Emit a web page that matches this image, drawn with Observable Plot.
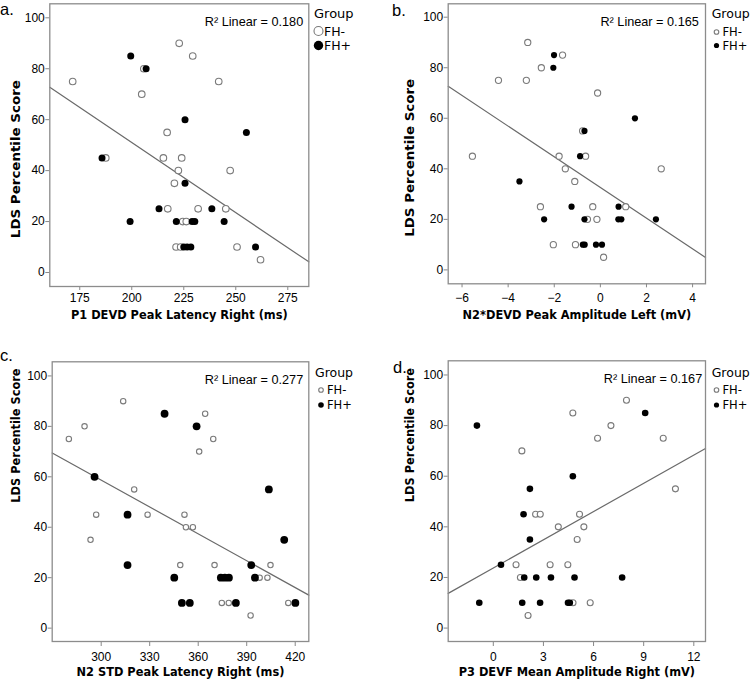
<!DOCTYPE html>
<html><head><meta charset="utf-8">
<script src="https://cdn.jsdelivr.net/npm/d3@7"></script>
<script src="https://cdn.jsdelivr.net/npm/@observablehq/plot@0.6"></script>
<style>
body{margin:0;background:#fff;}
#wrap{position:relative;width:750px;height:684px;overflow:hidden;background:#fff;}
.panel{position:absolute;}
.panel svg{overflow:visible;}
#overlay{position:absolute;left:0;top:0;pointer-events:none;}
</style></head><body><div id="wrap"></div>
<script>
// ---- shared ----
const yTicks = [0, 20, 40, 60, 80, 100];
const yLabel = "LDS Percentile Score";
const groupTitle = "Group";
const groupNames = ["FH-", "FH+"];

// ---- panel a ----
const aMinusX = [171.6,205.8,204.8,222.8,229.3,241.8,217.0,187.5,215.2,224.0,222.4,247.3,220.5,217.3,231.9,245.2,224.5,226.2,221.3,223.5,250.6,261.9];
const aMinusY = [75,80,70,90,85,75,55,45,45,45,40,40,35,25,25,25,20,20,10,10,10,5];
const aPlusX = [199.5,206.9,225.6,255.1,185.7,225.6,213.1,238.5,199.2,221.4,229.0,230.3,244.4,225.0,226.6,228.4,259.5];
const aPlusY = [85,80,60,55,45,35,25,25,20,20,20,20,20,10,10,10,10];
const aTicks = [175, 200, 225, 250, 275];
const aXLabel = "P1 DEVD Peak Latency Right (ms)";
const aR2 = "R² Linear = 0.180";

// ---- panel b ----
const bMinusX = [-5.55,-4.42,-3.15,-3.21,-2.56,-1.64,-2.60,-2.04,-1.79,-1.52,-1.11,-1.08,-0.12,-0.77,-0.64,-0.33,-0.56,-0.15,0.14,1.10,2.64];
const bMinusY = [45,75,90,75,80,85,25,10,45,40,35,10,70,55,45,25,20,20,5,25,40];
const bPlusX = [-3.51,-2.04,-2.01,-2.44,-1.25,-0.69,-0.88,-0.69,-0.76,-0.68,-0.19,0.07,0.79,0.78,0.91,1.50,2.41];
const bPlusY = [35,80,85,20,25,55,45,20,10,10,10,10,25,20,20,60,20];
const bTicks = [-6, -4, -2, 0, 2, 4];
const bXLabel = "N2*DEVD Peak Amplitude Left (mV)";
const bR2 = "R² Linear = 0.165";

// ---- panel c ----
const cMinusX = [280.0,289.7,293.4,296.9,313.6,320.4,328.7,351.5,352.4,356.7,348.9,360.6,364.3,369.3,370.1,374.6,378.9,392.4,398.0,402.8,404.7,415.7];
const cMinusY = [75,80,35,45,90,55,45,45,40,40,25,70,85,75,25,10,10,5,20,20,25,10];
const cPlusX = [295.9,316.3,316.3,339.2,345.2,349.9,354.8,359.0,374.0,376.5,379.0,383.3,392.8,395.1,403.7,413.2,420.1];
const cPlusY = [60,45,25,85,20,10,10,80,20,20,20,10,25,20,55,35,10];
const cTicks = [300, 330, 360, 390, 420];
const cXLabel = "N2 STD Peak Latency Right (ms)";
const cR2 = "R² Linear = 0.277";

// ---- panel d ----
const dMinusX = [1.36,1.62,1.71,2.08,2.53,2.81,3.40,3.89,4.46,4.77,4.76,5.02,5.16,5.42,5.80,6.24,7.04,7.97,10.17,10.90];
const dMinusY = [25,20,70,5,45,45,25,40,25,10,85,35,45,40,10,75,80,90,75,55];
const dPlusX = [-0.98,-0.84,0.46,1.85,1.81,1.73,2.19,2.19,2.57,2.80,3.45,4.47,4.58,4.76,4.86,7.71,9.09];
const dPlusY = [80,10,25,20,45,10,55,35,20,10,20,10,10,60,20,20,85];
const dTicks = [0, 3, 6, 9, 12];
const dXLabel = "P3 DEVF Mean Amplitude Right (mV)";
const dR2 = "R² Linear = 0.167";

function fit(xs, ys) {
  const mx = d3.mean(xs), my = d3.mean(ys);
  let sxy = 0, sxx = 0;
  xs.forEach((x, i) => { const dx = x - mx; sxy += dx * (ys[i] - my); sxx += dx * dx; });
  const b = sxy / sxx;
  return {a: my - b * mx, b};
}

const LABEL_FONT = "'DejaVu Sans', sans-serif";
const TICK_FONT = "'Liberation Sans', Arial, sans-serif";

function panel(cfg) {
  const minus = cfg.minusX.map((x, i) => ({x, y: cfg.minusY[i]}));
  const plus = cfg.plusX.map((x, i) => ({x, y: cfg.plusY[i]}));
  const all = minus.concat(plus);
  const f = fit(all.map(d => d.x), all.map(d => d.y));
  const fitLine = cfg.xDomain.map(x => ({x, y: f.a + f.b * x}));
  const m = cfg.margin;
  const el = Plot.plot({
    width: 375, height: 342,
    marginTop: m.top, marginRight: m.right, marginBottom: m.bottom, marginLeft: m.left,
    style: {fontFamily: TICK_FONT, fontSize: "12px", color: "#000", background: "transparent"},
    x: {domain: cfg.xDomain},
    y: {domain: cfg.yDomain},
    marks: [
      Plot.axisX({ticks: cfg.xTicks, tickSize: cfg.xTickSize, tickPadding: cfg.xPad, label: null, stroke: "#888", fill: "#000", fontSize: 12}),
      Plot.axisY({ticks: yTicks, tickSize: 4, tickPadding: 1, label: null, stroke: "#888", fill: "#000", fontSize: 12}),
      Plot.line(fitLine, {x: "x", y: "y", stroke: "#6a6a6a", strokeWidth: 1.2}),
      Plot.dot(minus, {x: "x", y: "y", r: cfg.rMinus, stroke: "#7a7a7a", strokeWidth: 1.1, fill: "#fff"}),
      Plot.dot(plus, {x: "x", y: "y", r: cfg.rPlus, fill: "#000"}),
      Plot.frame({stroke: "#8c8c8c", strokeWidth: 1.3}),
      Plot.text([cfg.r2], {text: d => d, frameAnchor: "top-right", textAnchor: "end", dx: -cfg.r2dx, dy: 13.3, fontSize: 12.7, fill: "#000"}),
      Plot.text([cfg.xLabel], {text: d => d, frameAnchor: "bottom", dy: cfg.xLabelDy, fontSize: 11.4, fontWeight: "bold", fontFamily: LABEL_FONT, fill: "#000"}),
      Plot.text([yLabel], {text: d => d, frameAnchor: "left", rotate: -90, dx: cfg.yLabelDx, dy: cfg.yLabelDy, fontSize: 11.4, fontWeight: "bold", fontFamily: LABEL_FONT, fill: "#000"})
    ]
  });
  if (cfg.yLabelLen) {
    el.querySelectorAll("text").forEach(t => {
      if (t.textContent === yLabel) {
        t.setAttribute("text-anchor", "start");
        t.setAttribute("x", -cfg.yLabelLen / 2);
        t.setAttribute("textLength", cfg.yLabelLen);
        t.setAttribute("lengthAdjust", "spacingAndGlyphs");
      }
    });
  }
  const div = document.createElement("div");
  div.className = "panel";
  div.style.left = cfg.left + "px";
  div.style.top = cfg.top + "px";
  div.appendChild(el);
  document.getElementById("wrap").appendChild(div);
}

panel({left: 0, top: 0, minusX: aMinusX, minusY: aMinusY, plusX: aPlusX, plusY: aPlusY,
  xTicks: aTicks, xLabel: aXLabel, r2: aR2, xDomain: [160.6, 285.1], yDomain: [-5.5, 105.5],
  margin: {top: 3.3, right: 66.7, bottom: 56, left: 49.3}, xTickSize: 4, xPad: 3.2,
  rMinus: 3.3, rPlus: 3.5, r2dx: 5.6, xLabelDy: 32, yLabelDx: -33.8, yLabelDy: 14, yLabelLen: 158});
panel({left: 375, top: 0, minusX: bMinusX, minusY: bMinusY, plusX: bPlusX, plusY: bPlusY,
  xTicks: bTicks, xLabel: bXLabel, r2: bR2, xDomain: [-6.6, 4.56], yDomain: [-5.5, 105.3],
  margin: {top: 3.3, right: 45, bottom: 58.7, left: 72.7}, xTickSize: 4, xPad: 5.9,
  rMinus: 3.1, rPlus: 3.1, r2dx: 6.7, xLabelDy: 34.8, yLabelDx: -37.7, yLabelDy: 14, yLabelLen: 158});
panel({left: 0, top: 342, minusX: cMinusX, minusY: cMinusY, plusX: cPlusX, plusY: cPlusY,
  xTicks: cTicks, xLabel: cXLabel, r2: cR2, xDomain: [269.7, 428.4], yDomain: [-5.3, 105.6],
  margin: {top: 19.3, right: 66.7, bottom: 43, left: 51.7}, xTickSize: 5, xPad: 5.8,
  rMinus: 2.7, rPlus: 3.9, r2dx: 5.6, xLabelDy: 34.7, yLabelDx: -36, yLabelDy: 1});
panel({left: 375, top: 342, minusX: dMinusX, minusY: dMinusY, plusX: dPlusX, plusY: dPlusY,
  xTicks: dTicks, xLabel: dXLabel, r2: dR2, xDomain: [-2.7, 12.7], yDomain: [-5.3, 105.6],
  margin: {top: 18.3, right: 45, bottom: 43, left: 72.7}, xTickSize: 5, xPad: 5.8,
  rMinus: 3.0, rPlus: 3.3, r2dx: 3.3, xLabelDy: 34.7, yLabelDx: -37.7, yLabelDy: 1});

// ---- legends and panel letters ----
const legends = [
  {x: 314, y: 18.3, cx: 318.5, y1: 31, y2: 45.5, rMinus: 4.5, rPlus: 4.7, tx: 324, fs: 12.5},
  {x: 711.7, y: 18.3, cx: 716.5, y1: 32, y2: 45.5, rMinus: 2.3, rPlus: 2.6, tx: 722.5, fs: 11.5},
  {x: 315, y: 377, cx: 321, y1: 390, y2: 405, rMinus: 2.3, rPlus: 2.8, tx: 327, fs: 11.5},
  {x: 711.7, y: 377, cx: 716.5, y1: 390, y2: 405, rMinus: 2.3, rPlus: 2.6, tx: 722.5, fs: 11.5}
];
const panelLetters = [
  {t: "a.", x: 0, y: 14.5}, {t: "b.", x: 392, y: 15.5}, {t: "c.", x: 0, y: 361}, {t: "d.", x: 393, y: 373}
];
const svg = d3.select("#wrap").append("svg").attr("id", "overlay").attr("width", 750).attr("height", 684);
legends.forEach((L, i) => {
  svg.append("text").attr("x", L.x).attr("y", L.y).attr("font-family", LABEL_FONT).attr("font-size", i === 0 ? 13 : 12.5).text(groupTitle);
  svg.append("circle").attr("cx", L.cx).attr("cy", L.y1).attr("r", L.rMinus).attr("fill", "#fff").attr("stroke", "#7a7a7a").attr("stroke-width", 1.1);
  svg.append("circle").attr("cx", L.cx).attr("cy", L.y2).attr("r", L.rPlus).attr("fill", "#000");
  svg.append("text").attr("x", L.tx).attr("y", L.y1).attr("dy", "0.36em").attr("font-family", LABEL_FONT).attr("font-size", L.fs).text(groupNames[0]);
  svg.append("text").attr("x", L.tx).attr("y", L.y2).attr("dy", "0.36em").attr("font-family", LABEL_FONT).attr("font-size", L.fs).text(groupNames[1]);
});
panelLetters.forEach(p => {
  svg.append("text").attr("x", p.x).attr("y", p.y).attr("font-family", TICK_FONT).attr("font-size", 16.5).text(p.t);
});
</script></body></html>
